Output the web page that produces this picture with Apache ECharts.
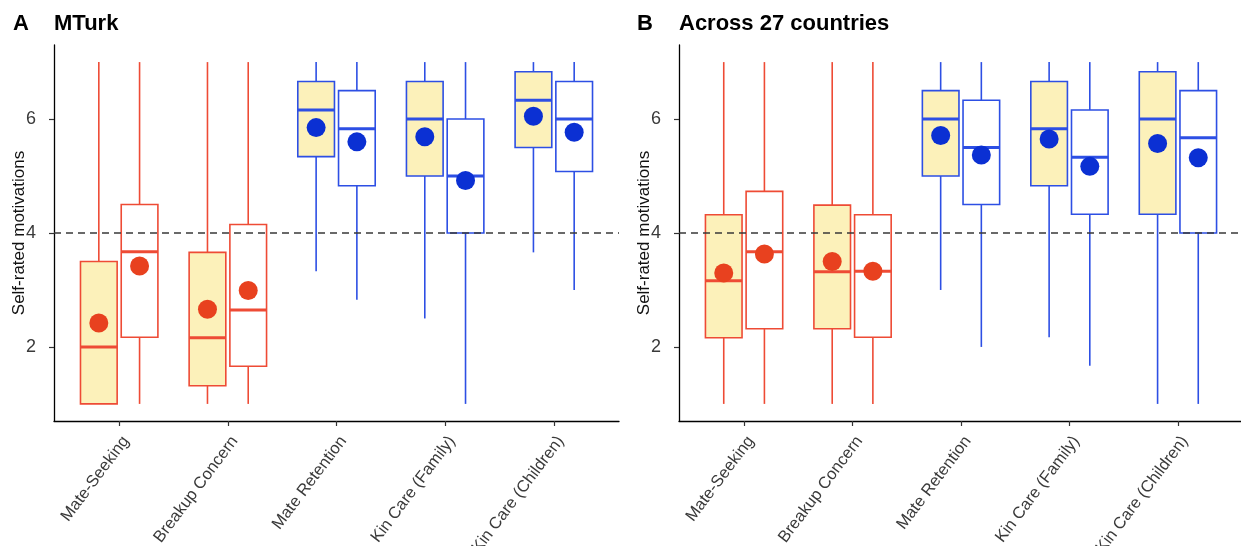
<!DOCTYPE html>
<html>
<head>
<meta charset="utf-8">
<script src="https://cdn.jsdelivr.net/npm/echarts@6/dist/echarts.min.js"></script>
<style>
  html, body { margin: 0; padding: 0; background: #fff; }
  #chart { width: 1241px; height: 546px; }
</style>
</head>
<body>
<div id="chart"></div>
<script>
// Categories and colour group (0 = red, 1 = blue)
const categories = ['Mate-Seeking', 'Breakup Concern', 'Mate Retention', 'Kin Care (Family)', 'Kin Care (Children)'];
const categoryGroup = [0, 0, 1, 1, 1];
const yTicks = [2, 4, 6];
const referenceLine = 4;

// Each row: [whisker low, Q1, median, Q3, whisker high, mean]
const mturkFilled = [
  [1.00, 1.00, 2.00, 3.50, 7.00, 2.42],
  [1.00, 1.32, 2.16, 3.66, 7.00, 2.66],
  [3.33, 5.34, 6.16, 6.66, 7.00, 5.85],
  [2.50, 5.00, 6.00, 6.66, 7.00, 5.69],
  [3.66, 5.50, 6.33, 6.83, 7.00, 6.05]
];
const mturkOpen = [
  [1.00, 2.17, 3.67, 4.50, 7.00, 3.42],
  [1.00, 1.66, 2.65, 4.15, 7.00, 2.99],
  [2.83, 4.83, 5.83, 6.50, 7.00, 5.60],
  [1.00, 4.00, 5.00, 6.00, 7.00, 4.92],
  [3.00, 5.08, 6.00, 6.66, 7.00, 5.77]
];
const countriesFilled = [
  [1.00, 2.16, 3.16, 4.32, 7.00, 3.30],
  [1.00, 2.32, 3.32, 4.49, 7.00, 3.50],
  [3.00, 5.00, 6.00, 6.50, 7.00, 5.71],
  [2.17, 4.83, 5.83, 6.66, 7.00, 5.65],
  [1.00, 4.33, 6.00, 6.83, 7.00, 5.57]
];
const countriesOpen = [
  [1.00, 2.32, 3.67, 4.73, 7.00, 3.63],
  [1.00, 2.17, 3.33, 4.32, 7.00, 3.33],
  [2.00, 4.50, 5.50, 6.33, 7.00, 5.37],
  [1.67, 4.33, 5.33, 6.16, 7.00, 5.17],
  [1.00, 4.00, 5.67, 6.50, 7.00, 5.32]
];

const lineColors = ['#EE4B35', '#2D4FE4'];
const dotColors = ['#E8411F', '#0B30D3'];
const fillColor = '#FCF1BA';
const FONT = '"Liberation Sans", Arial, sans-serif';

function toData(rows) {
  return rows.map((r, i) => [i + 1].concat(r));
}

function makeRender(offset, filled) {
  const hw = 0.16875;
  return function (params, api) {
    const idx = params.dataIndex;
    const g = categoryGroup[idx];
    const stroke = lineColors[g];
    const x = api.value(0) + offset;
    const low = api.value(1), q1 = api.value(2), med = api.value(3),
          q3 = api.value(4), high = api.value(5), mean = api.value(6);
    const cHigh = api.coord([x, high]);
    const cQ3 = api.coord([x, q3]);
    const cQ1 = api.coord([x, q1]);
    const cLow = api.coord([x, low]);
    const cMed = api.coord([x, med]);
    const cMean = api.coord([x, mean]);
    const pL = api.coord([x - hw, q3]);
    const pR = api.coord([x + hw, q1]);
    const children = [];
    children.push({ type: 'line', shape: { x1: cHigh[0], y1: cHigh[1], x2: cQ3[0], y2: cQ3[1] },
      style: { stroke: stroke, lineWidth: 1.6 } });
    children.push({ type: 'line', shape: { x1: cLow[0], y1: cLow[1], x2: cQ1[0], y2: cQ1[1] },
      style: { stroke: stroke, lineWidth: 1.6 } });
    children.push({ type: 'rect', shape: { x: pL[0], y: pL[1], width: pR[0] - pL[0], height: pR[1] - pL[1] },
      style: { fill: filled ? fillColor : '#ffffff', stroke: stroke, lineWidth: 1.6 } });
    children.push({ type: 'line', shape: { x1: pL[0], y1: cMed[1], x2: pR[0], y2: cMed[1] },
      style: { stroke: stroke, lineWidth: 3 } });
    children.push({ type: 'circle', shape: { cx: cMean[0], cy: cMean[1], r: 9.5 },
      style: { fill: dotColors[g] } });
    return { type: 'group', children: children };
  };
}

function xAxisFor(gridIndex) {
  return {
    type: 'value', gridIndex: gridIndex, min: 0.4, max: 5.6,
    splitLine: { show: false },
    axisLine: { show: true, onZero: false, lineStyle: { color: '#000', width: 1.3 } },
    axisTick: { show: true, customValues: [1, 2, 3, 4, 5], length: 5, lineStyle: { color: '#333', width: 1.2 } },
    axisLabel: {
      customValues: [1, 2, 3, 4, 5], rotate: 53, margin: 12, verticalAlign: 'top',
      fontSize: 16.5, fontFamily: FONT, color: '#3a3a3a',
      formatter: function (v) { return categories[Math.round(v) - 1]; }
    }
  };
}

function yAxisFor(gridIndex) {
  return {
    type: 'value', gridIndex: gridIndex, min: 0.7, max: 7.3,
    splitLine: { show: false },
    name: 'Self-rated motivations', nameLocation: 'middle', nameGap: 26, nameMoveOverlap: false,
    nameTextStyle: { fontSize: 17, fontFamily: FONT, color: '#111' },
    axisLine: { show: true, onZero: false, lineStyle: { color: '#000', width: 1.3 } },
    axisTick: { show: true, customValues: yTicks, length: 5, lineStyle: { color: '#333', width: 1.2 } },
    axisLabel: { customValues: yTicks, margin: 18, fontSize: 18, fontFamily: FONT, color: '#3a3a3a' }
  };
}

function refLineSeries(idx) {
  return {
    type: 'line', xAxisIndex: idx, yAxisIndex: idx, data: [], silent: true,
    markLine: {
      silent: true, symbol: 'none', z: 10, animation: false,
      label: { show: false },
      lineStyle: { type: [7, 5], color: '#383838', width: 1.6 },
      data: [{ yAxis: referenceLine }]
    }
  };
}

const chart = echarts.init(document.getElementById('chart'), null, { renderer: 'canvas' });
chart.setOption({
  animation: false,
  backgroundColor: '#ffffff',
  grid: [
    { left: 54, right: 622, top: 45, bottom: 125, containLabel: false, outerBoundsMode: 'none' },
    { left: 679, right: -2, top: 45, bottom: 125, containLabel: false, outerBoundsMode: 'none' }
  ],
  xAxis: [xAxisFor(0), xAxisFor(1)],
  yAxis: [yAxisFor(0), yAxisFor(1)],
  graphic: [
    { type: 'text', left: 13, top: 13, style: { text: 'A', font: 'bold 22px ' + FONT, fill: '#000' } },
    { type: 'text', left: 54, top: 13, style: { text: 'MTurk', font: 'bold 22px ' + FONT, fill: '#000' } },
    { type: 'text', left: 637, top: 13, style: { text: 'B', font: 'bold 22px ' + FONT, fill: '#000' } },
    { type: 'text', left: 679, top: 13, style: { text: 'Across 27 countries', font: 'bold 22px ' + FONT, fill: '#000' } }
  ],
  series: [
    { type: 'custom', xAxisIndex: 0, yAxisIndex: 0, renderItem: makeRender(-0.1875, true),
      data: toData(mturkFilled), encode: { x: 0, y: [1, 2, 3, 4, 5, 6] } },
    { type: 'custom', xAxisIndex: 0, yAxisIndex: 0, renderItem: makeRender(0.1875, false),
      data: toData(mturkOpen), encode: { x: 0, y: [1, 2, 3, 4, 5, 6] } },
    { type: 'custom', xAxisIndex: 1, yAxisIndex: 1, renderItem: makeRender(-0.1875, true),
      data: toData(countriesFilled), encode: { x: 0, y: [1, 2, 3, 4, 5, 6] } },
    { type: 'custom', xAxisIndex: 1, yAxisIndex: 1, renderItem: makeRender(0.1875, false),
      data: toData(countriesOpen), encode: { x: 0, y: [1, 2, 3, 4, 5, 6] } },
    refLineSeries(0),
    refLineSeries(1)
  ]
});
</script>
</body>
</html>
